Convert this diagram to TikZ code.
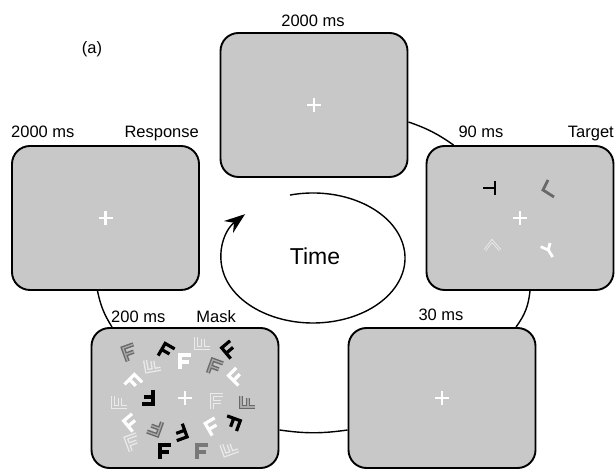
\documentclass[tikz,border=0pt]{standalone}
\usepackage{fontspec}
\setmainfont{Liberation Sans}
\usetikzlibrary{arrows.meta,calc}
\definecolor{boxgray}{RGB}{200,200,200}
\definecolor{midgray}{RGB}{105,105,105}
\definecolor{dgray}{RGB}{120,120,120}
\definecolor{lightline}{RGB}{235,235,235}
\begin{document}
\begin{tikzpicture}[x=1pt,y=1pt,
  box/.style={draw, line width=1.9pt, fill=boxgray, rounded corners=18pt,
    minimum width=187pt, minimum height=144pt, inner sep=0pt},
  lowbox/.style={box, minimum height=140pt},
  lbl/.style={font=\fontsize{16.5}{19}\selectfont, inner sep=0pt},
  conn/.style={line width=1.4pt},
  crs/.style={white, line width=2.2pt},
  tg/.style={line width=2.8pt},
  pics/gK/.style={code={\draw[line width=3.2pt,black] (-5pt,-7pt)--(-5pt,7pt)--(6pt,7pt) (-5pt,0pt)--(4pt,0pt);}},
  pics/gW/.style={code={\draw[line width=3.2pt,white] (-5pt,-7pt)--(-5pt,7pt)--(6pt,7pt) (-5pt,0pt)--(4pt,0pt);}},
  pics/gD/.style={code={\draw[line width=3.2pt,dgray] (-5pt,-7pt)--(-5pt,7pt)--(6pt,7pt) (-5pt,0pt)--(4pt,0pt);}},
  pics/gG/.style={code={\draw[line width=4.2pt,midgray] (-5pt,-7pt)--(-5pt,7pt)--(6pt,7pt) (-5pt,0pt)--(4pt,0pt);
     \draw[line width=1.3pt,boxgray!85!black] (-5pt,-7pt)--(-5pt,7pt)--(6pt,7pt) (-5pt,0pt)--(4pt,0pt);}},
  pics/gL/.style={code={\draw[line width=4.2pt,lightline] (-5pt,-7pt)--(-5pt,7pt)--(6pt,7pt) (-5pt,0pt)--(4pt,0pt);
     \draw[line width=1.5pt,boxgray] (-5pt,-7pt)--(-5pt,7pt)--(6pt,7pt) (-5pt,0pt)--(4pt,0pt);}}
]
\useasboundingbox (0,0) rectangle (615,470);

% boxes
\node[box] (top) at (314,365) {};
\node[box] (resp) at (105.5,252) {};
\node[box] (target) at (520,252) {};
\node[lowbox] (thirty) at (442,72) {};
\node[lowbox] (mask) at (185,72) {};

% crosses
\foreach \n in {top,resp,target,thirty,mask}
  \draw[crs] ([xshift=-7pt]\n.center) -- ([xshift=7pt]\n.center)
             ([yshift=-7pt]\n.center) -- ([yshift=7pt]\n.center);

% connectors of the cycle
\draw[conn] ([yshift=-17pt]top.east) to[bend left=8] ([xshift=28pt]target.north west);
\draw[conn] ([xshift=10pt]target.south) to[bend left=15] ([xshift=74pt]thirty.north);
\draw[conn] ([yshift=-32pt]thirty.west) to[bend left=8] ([yshift=-32pt]mask.east);
\draw[conn] ([xshift=-73pt]mask.north) to[bend left=10] ([xshift=-8pt]resp.south);

% time arrow
\coordinate (tc) at (313,212);
\node[font=\fontsize{23}{27}\selectfont, inner sep=0pt] (timelbl) at (315,214) {Time};
\draw[line width=1.4pt, -{Stealth[length=21pt,width=15pt,inset=7pt]}]
  ([shift={(104.5:92pt and 65pt)}]tc) arc[start angle=104.5, end angle=-222.4, x radius=92pt, y radius=65pt];

% labels
\node[lbl,anchor=base] (lt) at (313,443) {2000 ms};
\node[lbl,anchor=base west] (lr1) at (11,332) {2000 ms};
\node[lbl,anchor=base east] (lr2) at (199,332) {Response};
\node[lbl,anchor=base] (lg1) at (481,332) {90 ms};
\node[lbl,anchor=base east] (lg2) at (614,332) {Target};
\node[lbl,anchor=base] (l30) at (441,149) {30 ms};
\node[lbl,anchor=base west] (lm1) at (111,147) {200 ms};
\node[lbl,anchor=base east] (lm2) at (236,147) {Mask};
\node[lbl,anchor=base] (la) at (92,416) {(a)};

% target display
\draw[tg,black] (483,282)--(496,282) (495,289)--(495,275);
\draw[tg,midgray] (548,290)--(543,280)--(554,273);
\draw[line width=2.8pt,lightline] (485,220)--(492,229)--(500,220);
\draw[line width=1pt,boxgray] (485,220)--(492,229)--(500,220);
\draw[tg,white] (540.7,223.3)--(548.3,220) (550,227)--(548.3,220)--(552.7,213);

% mask display
\pic[rotate=20]  at (130,117) {gG};
\pic[rotate=100] at (153,105) {gL};
\pic[rotate=-30] at (166,118) {gK};
\pic[rotate=90]  at (203,127) {gL};
\pic[rotate=40]  at (230,120) {gK};
\pic[rotate=0]   at (185,108) {gW};
\pic[rotate=-20] at (215,102) {gG};
\pic[rotate=45]  at (237,93)  {gW};
\pic[rotate=-45] at (133,87)  {gW};
\pic[rotate=180] at (148,73)  {gK};
\pic[rotate=90]  at (120,68)  {gL};
\pic[rotate=0]   at (217,68)  {gL};
\pic[rotate=90]  at (248,68)  {gG};
\pic[rotate=40]  at (132,47)  {gW};
\pic[rotate=160] at (155,43)  {gG};
\pic[rotate=200] at (180,38)  {gK};
\pic[rotate=30]  at (213,43)  {gW};
\pic[rotate=250] at (232,47)  {gK};
\pic[rotate=20]  at (133,27)  {gL};
\pic[rotate=0]   at (165,18)  {gK};
\pic[rotate=0]   at (202,18)  {gD};
\pic[rotate=110] at (230,22)  {gL};
\end{tikzpicture}
\end{document}
